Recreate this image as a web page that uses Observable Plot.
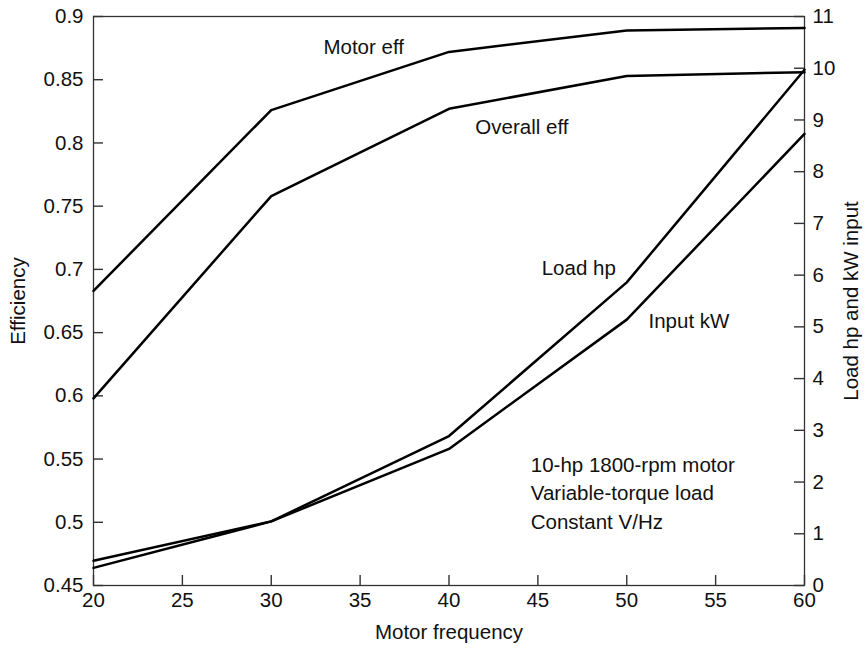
<!DOCTYPE html>
<html><head><meta charset="utf-8">
<script src="https://cdn.jsdelivr.net/npm/d3@7"></script>
<script src="https://cdn.jsdelivr.net/npm/@observablehq/plot@0.6"></script>
<style>body{margin:0;background:#fff}</style>
</head><body><div id="chart"></div>
<script>
// Data
const freq = [20, 30, 40, 50, 60];
const motorEff = [0.683, 0.826, 0.872, 0.889, 0.891];
const overallEff = [0.598, 0.758, 0.827, 0.853, 0.856];
const loadHp = [0.34, 1.24, 2.89, 5.86, 9.97];
const inputKW = [0.48, 1.24, 2.64, 5.14, 8.73];

const xTicks = [20, 25, 30, 35, 40, 45, 50, 55, 60];
const effTicks = [0.45, 0.5, 0.55, 0.6, 0.65, 0.7, 0.75, 0.8, 0.85, 0.9];
const rightTicks = [0, 1, 2, 3, 4, 5, 6, 7, 8, 9, 10, 11];

// Curve labels (data coordinates)
const curveLabels = ["Motor eff", "Overall eff", "Load hp", "Input kW"];
const curveLabelX = [35.2, 44.1, 47.3, 53.5];
const curveLabelY = [0.8755, 0.8122, 0.7007, 0.6588];

const noteLines = ["10-hp 1800-rpm motor", "Variable-torque load", "Constant V/Hz"];
const noteX = 44.6;
const noteY = [0.5449, 0.5227, 0.4998];

// right axis (0..11) mapped onto the efficiency scale (0.45..0.9)
const rMax = 11, yMin = 0.45, yMax = 0.9;
const toLeft = r => yMin + r * (yMax - yMin) / rMax;
const fromLeft = v => Math.round((v - yMin) * rMax / (yMax - yMin));

const effRows = freq.flatMap((f, i) => [
  {series: "Motor eff", f, v: motorEff[i]},
  {series: "Overall eff", f, v: overallEff[i]}
]);
const rightRows = freq.flatMap((f, i) => [
  {series: "Load hp", f, v: toLeft(loadHp[i])},
  {series: "Input kW", f, v: toLeft(inputKW[i])}
]);
const labelRows = curveLabels.map((t, i) => ({t, x: curveLabelX[i], y: curveLabelY[i]}));
const noteRows = noteLines.map((t, i) => ({t, x: noteX, y: noteY[i]}));

const W = 868, H = 651, ML = 93, MR = 64, MT = 16, MB = 66;
const innerW = W - ML - MR, innerH = H - MT - MB, TICK = 10;
const FS = 20.5;
const AX = "#333";
const chart = Plot.plot({
  width: W,
  height: H,
  marginLeft: ML,
  marginRight: MR,
  marginTop: MT,
  marginBottom: MB,
  style: {fontFamily: "'Liberation Sans', Arial, Helvetica, sans-serif", fontSize: FS + "px", color: "#111", background: "#fff"},
  x: {domain: [20, 60]},
  y: {domain: [yMin, yMax]},
  marks: [
    // inward tick marks
    Plot.ruleY(effTicks, {y: d => d, insetRight: innerW - TICK, stroke: AX, strokeWidth: 1.4}),
    Plot.ruleY(rightTicks.map(toLeft), {y: d => d, insetLeft: innerW - TICK, stroke: AX, strokeWidth: 1.4}),
    Plot.ruleX(xTicks, {x: d => d, insetTop: innerH - TICK, stroke: AX, strokeWidth: 1.4}),
    // tick labels
    Plot.axisX(xTicks, {tickSize: 0, tickPadding: 7, label: null, tickFormat: d => String(d), fill: "#111"}),
    Plot.axisY(effTicks, {anchor: "left", tickSize: 0, tickPadding: 10, label: null, tickFormat: d => String(+d.toFixed(2)), fill: "#111"}),
    Plot.axisY(rightTicks.map(toLeft), {anchor: "right", tickSize: 0, tickPadding: 8, label: null, tickFormat: d => String(fromLeft(d)), fill: "#111"}),
    Plot.frame({stroke: AX, strokeWidth: 1.3}),
    Plot.line(effRows, {x: "f", y: "v", z: "series", stroke: "#000", strokeWidth: 2.5}),
    Plot.line(rightRows, {x: "f", y: "v", z: "series", stroke: "#000", strokeWidth: 2.5}),
    Plot.text(labelRows, {x: "x", y: "y", text: "t", fontSize: FS, fill: "#111"}),
    Plot.text(noteRows, {x: "x", y: "y", text: "t", textAnchor: "start", fontSize: FS, fill: "#111"}),
    Plot.text(["Motor frequency"], {frameAnchor: "bottom", dy: 47, lineAnchor: "middle", textAnchor: "middle", text: d => d, fontSize: FS, fill: "#111"}),
    Plot.text(["Efficiency"], {frameAnchor: "left", dx: -75, rotate: -90, textAnchor: "middle", lineAnchor: "middle", text: d => d, fontSize: FS, fill: "#111"}),
    Plot.text(["Load hp and kW input"], {frameAnchor: "right", dx: 47, rotate: -90, textAnchor: "middle", lineAnchor: "middle", text: d => d, fontSize: FS, fill: "#111"})
  ]
});
document.getElementById("chart").appendChild(chart);
</script>
</body></html>
